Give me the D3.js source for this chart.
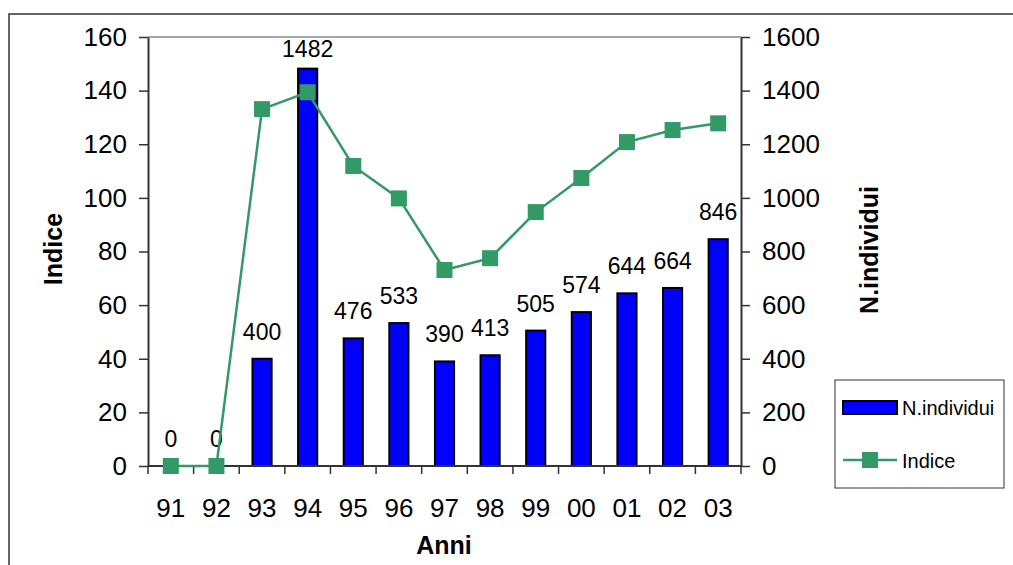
<!DOCTYPE html>
<html>
<head>
<meta charset="utf-8">
<script src="https://cdn.jsdelivr.net/npm/d3@7"></script>
<style>
  html, body { margin: 0; padding: 0; background: #fff; }
  svg { display: block; font-family: "Liberation Sans", Arial, sans-serif; }
</style>
</head>
<body>
<svg id="chart" width="1013" height="565"></svg>
<script>
// Years on the category axis
const anni = ["91", "92", "93", "94", "95", "96", "97", "98", "99", "00", "01", "02", "03"];
// Number of individuals per year (bars, right axis)
const nIndividui = [0, 0, 400, 1482, 476, 533, 390, 413, 505, 574, 644, 664, 846];
// Index per year (line, left axis)
const indice = [0, 0, 133.1, 139.4, 111.9, 99.8, 73.1, 77.5, 94.7, 107.4, 120.8, 125.3, 127.8];
// Axis tick values
const ticksIndice = [0, 20, 40, 60, 80, 100, 120, 140, 160];
const ticksIndividui = [0, 200, 400, 600, 800, 1000, 1200, 1400, 1600];

const svg = d3.select("#chart");
const plot = { left: 148, right: 741, top: 37, bottom: 466 };
const green = "#339966";
const fontFam = "'Liberation Sans', Arial, sans-serif";

// Outer chart frame
svg.append("rect")
  .attr("x", 9).attr("y", 14).attr("width", 1030).attr("height", 600)
  .attr("fill", "none").attr("stroke", "#333").attr("stroke-width", 1.5);

const x = d3.scaleBand().domain(anni).range([plot.left, plot.right]);
const yL = d3.scaleLinear().domain([0, 160]).range([plot.bottom, plot.top]);
const yR = d3.scaleLinear().domain([0, 1600]).range([plot.bottom, plot.top]);

// Top edge of the plot area
svg.append("line")
  .attr("x1", plot.left).attr("x2", plot.right)
  .attr("y1", plot.top).attr("y2", plot.top)
  .attr("stroke", "#888").attr("stroke-width", 1.5);

// Bars
const barW = x.bandwidth() * 0.42;
svg.append("g").selectAll("rect")
  .data(anni.map((a, i) => ({ a, v: nIndividui[i] })).filter(d => d.v > 0))
  .join("rect")
  .attr("x", d => x(d.a) + x.bandwidth() / 2 - barW / 2)
  .attr("y", d => yR(d.v))
  .attr("width", barW)
  .attr("height", d => yR(0) - yR(d.v))
  .attr("fill", "#0000ff")
  .attr("stroke", "#000").attr("stroke-width", 2);

// Value labels above bars (kept inside the plot area)
svg.append("g").selectAll("text")
  .data(anni.map((a, i) => ({ a, v: nIndividui[i] })))
  .join("text")
  .attr("x", d => x(d.a) + x.bandwidth() / 2)
  .attr("y", d => Math.max(yR(d.v) - 19, plot.top + 20))
  .attr("text-anchor", "middle")
  .attr("font-size", 23)
  .text(d => d.v);

// Axes
const axisStyle = g => {
  g.attr("font-size", 26).attr("font-family", fontFam);
  g.select(".domain").attr("stroke", "#333").attr("stroke-width", 2);
  g.selectAll(".tick line").attr("stroke", "#333").attr("stroke-width", 1.5);
  g.selectAll(".tick text").attr("fill", "#000");
};

svg.append("g")
  .attr("transform", `translate(${plot.left},0)`)
  .call(d3.axisLeft(yL).tickValues(ticksIndice).tickFormat(d3.format("d"))
    .tickSize(9).tickSizeOuter(0).tickPadding(12))
  .call(axisStyle);

svg.append("g")
  .attr("transform", `translate(${plot.right},0)`)
  .call(d3.axisRight(yR).tickValues(ticksIndividui).tickFormat(d3.format("d"))
    .tickSize(9).tickSizeOuter(0).tickPadding(12))
  .call(axisStyle);

// Category axis: ticks at band boundaries, labels at band centres
const xAxisG = svg.append("g").attr("transform", `translate(0,${plot.bottom})`);
xAxisG.append("line")
  .attr("x1", plot.left).attr("x2", plot.right)
  .attr("stroke", "#333").attr("stroke-width", 2);
xAxisG.selectAll("line.tk")
  .data(anni.map(a => x(a)).concat([plot.right]))
  .join("line").attr("class", "tk")
  .attr("x1", d => d).attr("x2", d => d)
  .attr("y1", 0).attr("y2", 8)
  .attr("stroke", "#333").attr("stroke-width", 1.5);
xAxisG.selectAll("text")
  .data(anni)
  .join("text")
  .attr("x", d => x(d) + x.bandwidth() / 2)
  .attr("y", 51)
  .attr("text-anchor", "middle")
  .attr("font-size", 26)
  .text(d => d);

// Index line with square markers
const line = d3.line()
  .x((d, i) => x(anni[i]) + x.bandwidth() / 2)
  .y(d => yL(d));
svg.append("path")
  .datum(indice)
  .attr("d", line)
  .attr("fill", "none").attr("stroke", green).attr("stroke-width", 2.5);
const ms = 16;
svg.append("g").selectAll("rect")
  .data(indice)
  .join("rect")
  .attr("x", (d, i) => x(anni[i]) + x.bandwidth() / 2 - ms / 2)
  .attr("y", d => yL(d) - ms / 2)
  .attr("width", ms).attr("height", ms)
  .attr("fill", green);

// Axis titles
svg.append("text")
  .attr("transform", `translate(62,249) rotate(-90)`)
  .attr("text-anchor", "middle")
  .attr("font-size", 25).attr("font-weight", "bold")
  .text("Indice");
svg.append("text")
  .attr("transform", `translate(878,250) rotate(-90)`)
  .attr("text-anchor", "middle")
  .attr("font-size", 25).attr("font-weight", "bold")
  .text("N.individui");
svg.append("text")
  .attr("x", 444).attr("y", 554)
  .attr("text-anchor", "middle")
  .attr("font-size", 25).attr("font-weight", "bold")
  .text("Anni");

// Legend
const lg = svg.append("g");
lg.append("rect")
  .attr("x", 835).attr("y", 380).attr("width", 169).attr("height", 108)
  .attr("fill", "#fff").attr("stroke", "#333").attr("stroke-width", 1);
lg.append("rect")
  .attr("x", 843).attr("y", 401).attr("width", 54).attr("height", 13)
  .attr("fill", "#0000ff").attr("stroke", "#000").attr("stroke-width", 2);
lg.append("text")
  .attr("x", 902).attr("y", 415)
  .attr("font-size", 20).text("N.individui");
lg.append("line")
  .attr("x1", 843).attr("x2", 897).attr("y1", 460).attr("y2", 460)
  .attr("stroke", green).attr("stroke-width", 2.5);
lg.append("rect")
  .attr("x", 862).attr("y", 452).attr("width", 16).attr("height", 16)
  .attr("fill", green);
lg.append("text")
  .attr("x", 902).attr("y", 468)
  .attr("font-size", 20).text("Indice");
</script>
</body>
</html>
